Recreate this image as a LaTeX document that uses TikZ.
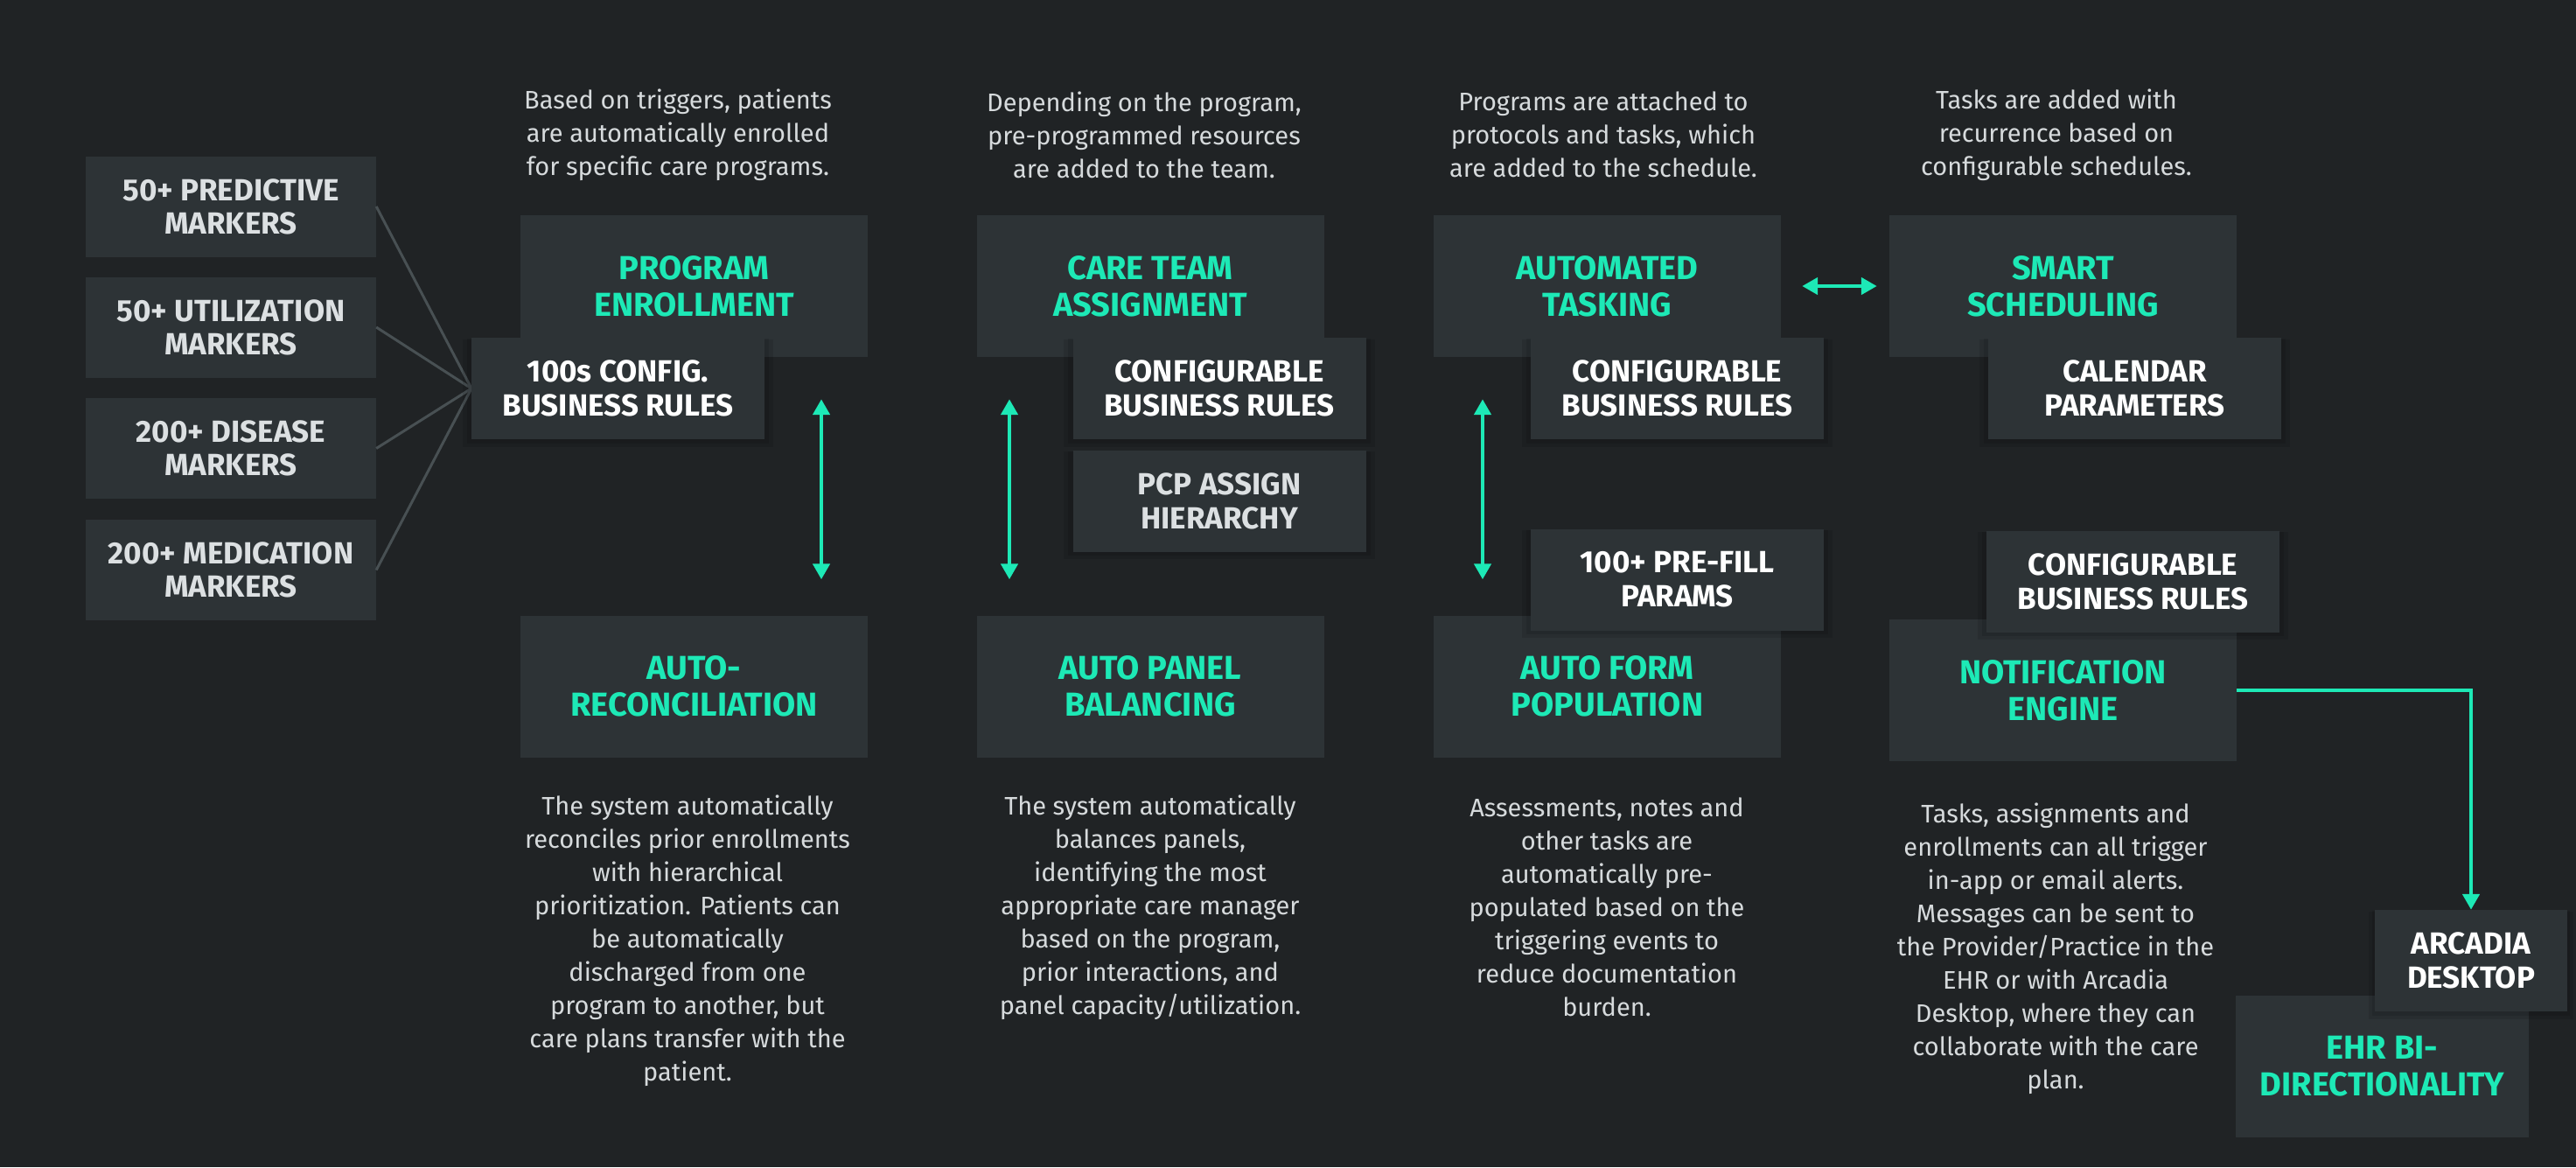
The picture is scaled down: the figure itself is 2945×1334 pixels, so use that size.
\documentclass[tikz,border=0pt]{standalone}
\usepackage{fontspec}
\setmainfont{Fira Sans}
\usetikzlibrary{arrows.meta,shadows}
\definecolor{bgc}{RGB}{32,35,37}
\definecolor{boxc}{RGB}{45,51,54}
\definecolor{tealc}{RGB}{29,233,182}
\definecolor{linec}{RGB}{72,80,83}
\definecolor{descc}{RGB}{214,218,220}
\definecolor{markc}{RGB}{220,224,226}
\begin{document}
\begin{tikzpicture}[x=1pt,y=-1pt,
  mainbox/.style={fill=boxc, inner sep=0pt, align=center, text=tealc,
    font=\fontsize{38}{42}\selectfont\bfseries, minimum width=397pt, minimum height=162pt},
  subbox/.style={fill=boxc, inner sep=0pt, align=center, text=white,
    font=\fontsize{35}{39}\selectfont\bfseries, minimum width=335pt, minimum height=116pt,
    general shadow={fill=black, opacity=.10, shadow scale=1.06, shadow yshift=-5pt},
    general shadow={fill=black, opacity=.10, shadow scale=1.03, shadow yshift=-3pt}},
  markbox/.style={fill=boxc, inner sep=0pt, align=center, text=markc,
    font=\fontsize{35}{38}\selectfont\bfseries, minimum width=332pt, minimum height=115pt},
  desc/.style={align=center, text=descc, font=\fontsize{29}{38}\selectfont, inner sep=0pt},
  tip/.tip={Triangle[length=18pt,width=19pt]},
  flow/.style={draw=tealc, line width=4.5pt, tip-tip},
  flowone/.style={draw=tealc, line width=4.5pt, -tip},
  feed/.style={draw=linec, line width=3pt}
]
\fill[bgc] (0,0) rectangle (2945,1334);
\useasboundingbox (0,0) rectangle (2945,1334);

% marker boxes
\node[markbox] (m1) at (264,236) {50+ PREDICTIVE\\MARKERS};
\node[markbox] (m2) at (264,374) {50+ UTILIZATION\\MARKERS};
\node[markbox] (m3) at (264,512.5) {200+ DISEASE\\MARKERS};
\node[markbox] (m4) at (264,651.5) {200+ MEDICATION\\MARKERS};

% top descriptions
\node[desc] (d1) at (775,154) {Based on triggers, patients\\are automatically enrolled\\for specific care programs.};
\node[desc] (d2) at (1308,154) {Depending on the program,\\pre-programmed resources\\are added to the team.};
\node[desc] (d3) at (1833,154) {Programs are attached to\\protocols and tasks, which\\are added to the schedule.};
\node[desc] (d4) at (2351,154) {Tasks are added with\\recurrence based on\\configurable schedules.};

% main boxes
\node[mainbox] (prog) at (793.5,327) {PROGRAM\\ENROLLMENT};
\node[mainbox] (recon) at (793.5,784.5) {AUTO-\\RECONCILIATION};
\node[mainbox] (team) at (1315,327) {CARE TEAM\\ASSIGNMENT};
\node[mainbox] (panel) at (1315,784.5) {AUTO PANEL\\BALANCING};
\node[mainbox] (task) at (1837.5,327) {AUTOMATED\\TASKING};
\node[mainbox] (form) at (1837.5,784.5) {AUTO FORM\\POPULATION};
\node[mainbox] (smart) at (2358.5,327) {SMART\\SCHEDULING};
\node[mainbox] (notif) at (2358.5,789) {NOTIFICATION\\ENGINE};
\node[mainbox, minimum width=335pt] (ehr) at (2723.5,1219) {EHR BI-\\DIRECTIONALITY};

% feeder lines
\draw[feed] (m1.east) -- (539,444) coordinate (cfgw);
\draw[feed] (m2.east) -- (cfgw);
\draw[feed] (m3.east) -- (cfgw);
\draw[feed] (m4.east) -- (cfgw);

% sub boxes
\node[subbox] (cfg1) at (706.5,444) {100s CONFIG.\\BUSINESS RULES};
\node[subbox] (cfg2) at (1394,444) {CONFIGURABLE\\BUSINESS RULES};
\node[subbox, text=markc] (pcp) at (1394,572.5) {PCP ASSIGN\\HIERARCHY};
\node[subbox] (cfg3) at (1917.5,444) {CONFIGURABLE\\BUSINESS RULES};
\node[subbox] (prefill) at (1917.5,662.5) {100+ PRE-FILL\\PARAMS};
\node[subbox] (cal) at (2440.5,444) {CALENDAR\\PARAMETERS};
\node[subbox] (cfg4) at (2438.5,664.5) {CONFIGURABLE\\BUSINESS RULES};
\node[subbox, minimum width=220pt] (arcadia) at (2825,1098) {ARCADIA\\DESKTOP};

% arrows
\draw[flow, shorten <=48pt, shorten >=41pt] ([xshift=145.5pt]prog.south) -- ([xshift=145.5pt]recon.north);
\draw[flow, shorten <=48pt, shorten >=41pt] ([xshift=-161pt]team.south) -- ([xshift=-161pt]panel.north);
\draw[flow, shorten <=48pt, shorten >=41pt] ([xshift=-142.5pt]task.south) -- ([xshift=-142.5pt]form.north);
\draw[flow, shorten <=24pt, shorten >=14pt] (task.east) -- (smart.west);
\draw[flowone] (notif.east) -| (arcadia.north);

% bottom descriptions
\node[desc] (b1) at (786,1075) {The system automatically\\reconciles prior enrollments\\with hierarchical\\prioritization. Patients can\\be automatically\\discharged from one\\program to another, but\\care plans transfer with the\\patient.};
\node[desc] (b2) at (1315,1037) {The system automatically\\balances panels,\\identifying the most\\appropriate care manager\\based on the program,\\prior interactions, and\\panel capacity/utilization.};
\node[desc] (b3) at (1837,1037) {Assessments, notes and\\other tasks are\\automatically pre-\\populated based on the\\triggering events to\\reduce documentation\\burden.};
\node[desc] (b4) at (2350,1084) {Tasks, assignments and\\enrollments can all trigger\\in-app or email alerts.\\Messages can be sent to\\the Provider/Practice in the\\EHR or with Arcadia\\Desktop, where they can\\collaborate with the care\\plan.};
\end{tikzpicture}
\end{document}
